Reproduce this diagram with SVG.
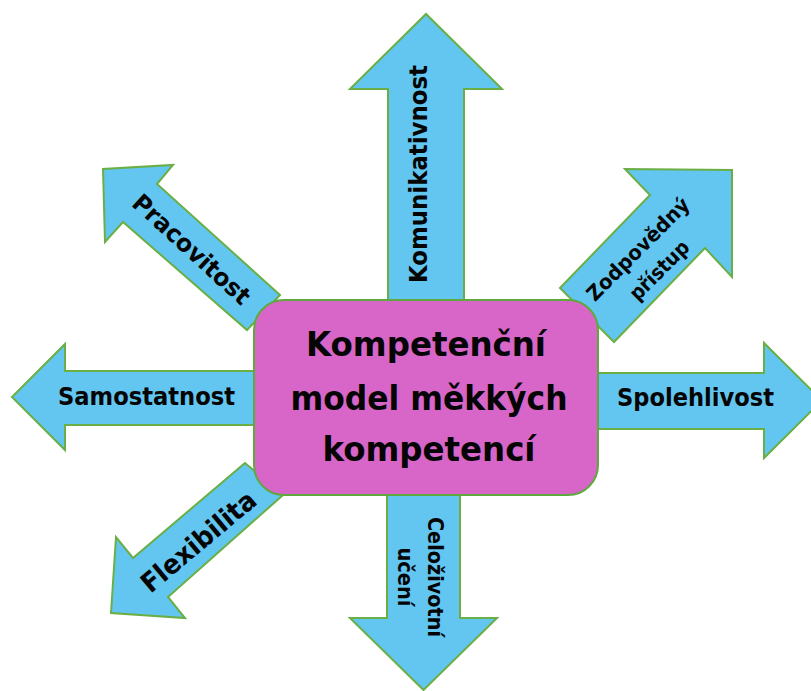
<svg xmlns="http://www.w3.org/2000/svg" width="811" height="691" viewBox="0 0 811 691">
  <style>
    .arrow { fill: #62c6f1; stroke: #6aaf45; stroke-width: 2; stroke-linejoin: miter; }
    .box { fill: #d766c8; stroke: #5fa83d; stroke-width: 2; }
    .lbl { font-family: "DejaVu Sans", "Liberation Sans", sans-serif; font-weight: bold; fill: #050505; text-anchor: middle; }
    .s23 { font-size: 24.5px; }
    .s25 { font-size: 27px; }
    .s19 { font-size: 20.5px; }
    .s31 { font-size: 33px; }
  </style>
  <rect width="811" height="691" fill="#ffffff"/>
  <g id="arrows">
    <g id="komunikativnost">
      <polygon class="arrow" points="388,305 388,89 350,89 426,14 502,89 464,89 464,305"/>
      <text class="lbl s23" transform="translate(418,174) rotate(-90)" x="0" y="9" textLength="218" lengthAdjust="spacingAndGlyphs">Komunikativnost</text>
    </g>
    <g id="celozivotni-uceni">
      <polygon class="arrow" points="387,490 387,618 350,618 423.5,690 497,618 460,618 460,490"/>
      <g transform="translate(423,577) rotate(90)">
        <text class="lbl s19" x="0" y="-5" textLength="120" lengthAdjust="spacingAndGlyphs">Celoživotní</text>
        <text class="lbl s19" x="0" y="25" textLength="59" lengthAdjust="spacingAndGlyphs">učení</text>
      </g>
    </g>
    <g id="samostatnost">
      <polygon class="arrow" points="262,371 65,371 65,344 12,397 65,450 65,425 262,425"/>
      <text class="lbl s23" x="146.5" y="405" textLength="177" lengthAdjust="spacingAndGlyphs">Samostatnost</text>
    </g>
    <g id="spolehlivost">
      <polygon class="arrow" points="590,373 764,373 764,343 822,400.5 764,458 764,429 590,429"/>
      <text class="lbl s23" x="695.5" y="406" textLength="157" lengthAdjust="spacingAndGlyphs">Spolehlivost</text>
    </g>
    <g id="pracovitost">
      <polygon class="arrow" points="280,295 157,184 173,165 103,169 105,242 123,222 247,330"/>
      <text class="lbl s23" transform="translate(192,249) rotate(42.5)" x="0" y="9" textLength="150" lengthAdjust="spacingAndGlyphs">Pracovitost</text>
    </g>
    <g id="zodpovedny-pristup">
      <polygon class="arrow" points="560,288 650,195 625,169 732,170 732,277 705,248 614,342"/>
      <g transform="translate(648,259) rotate(-45)">
        <text class="lbl s19" x="0" y="-7" textLength="136" lengthAdjust="spacingAndGlyphs">Zodpovědný</text>
        <text class="lbl s19" x="0" y="23" textLength="75" lengthAdjust="spacingAndGlyphs">přístup</text>
      </g>
    </g>
    <g id="flexibilita">
      <polygon class="arrow" points="245,463 133,558 116,537 111,613 185,618 168,597 283,495"/>
      <text class="lbl s25" transform="translate(198,541) rotate(-40)" x="0" y="10" textLength="141" lengthAdjust="spacingAndGlyphs">Flexibilita</text>
    </g>
  </g>
  <g id="center">
    <rect class="box" x="254" y="300" width="344" height="195" rx="30" ry="30"/>
    <text class="lbl s31" x="426" y="356" textLength="240" lengthAdjust="spacingAndGlyphs">Kompetenční</text>
    <text class="lbl s31" x="429" y="410" textLength="277" lengthAdjust="spacingAndGlyphs">model měkkých</text>
    <text class="lbl s31" x="429" y="461" textLength="213" lengthAdjust="spacingAndGlyphs">kompetencí</text>
  </g>
</svg>
